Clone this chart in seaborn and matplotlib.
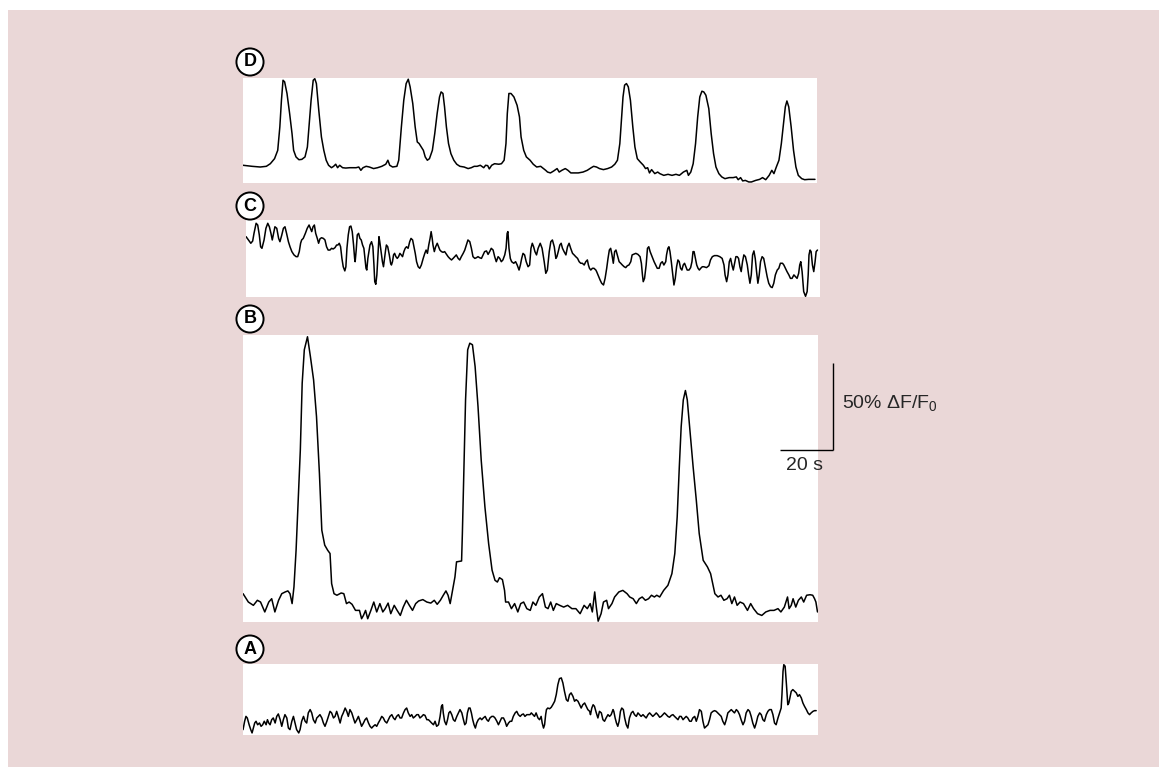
import matplotlib
matplotlib.use("Agg")
import matplotlib.pyplot as plt
from matplotlib.patches import Rectangle
import pandas as pd
import seaborn as sns

sns.set_style("white")
plt.rcParams["font.family"] = ["Liberation Sans", "DejaVu Sans"]
plt.rcParams["mathtext.default"] = "regular"

# Calcium imaging traces: (time in s, dF/F0 in %)
trace_d = [
    (0.0, 10.2), (3.4, 9.6), (6.5, 9.2), (8.8, 9.6), (10.3, 11.1), (11.9, 14.0), (13.1, 18.8),
    (13.9, 32.3), (14.5, 47.6), (15.1, 59.1), (15.7, 58.2), (16.6, 51.5), (17.6, 39.9), (18.5, 28.4),
    (19.1, 18.8), (20.0, 15.0), (21.1, 13.4), (22.2, 13.6), (23.4, 15.0), (24.3, 20.7), (24.9, 32.3),
    (25.7, 47.6), (26.5, 59.1), (27.1, 60.0), (27.7, 57.2), (28.6, 41.9), (29.6, 26.5), (30.5, 18.8),
    (31.4, 13.1), (32.3, 10.2), (33.4, 8.8), (34.2, 9.6), (35.0, 10.8), (35.7, 8.8), (36.5, 10.2),
    (37.6, 8.8), (38.8, 8.6), (40.3, 8.8), (42.7, 8.8), (43.7, 9.2), (44.5, 7.3), (45.3, 8.8),
    (46.5, 9.6), (47.7, 9.2), (49.3, 8.3), (50.8, 8.8), (52.4, 9.6), (53.9, 10.8), (54.7, 13.1),
    (55.4, 10.2), (56.5, 9.2), (58.1, 9.6), (58.8, 13.1), (59.8, 32.3), (60.7, 47.6), (61.6, 57.2),
    (62.4, 59.7), (63.1, 55.3), (64.1, 45.7), (65.0, 32.3), (65.8, 23.6), (66.5, 22.7), (67.3, 20.7),
    (68.1, 18.8), (68.8, 15.0), (69.6, 13.1), (70.4, 14.0), (71.5, 18.8), (72.4, 28.4), (73.3, 39.9),
    (74.2, 49.5), (74.8, 52.4), (75.5, 51.5), (76.1, 43.8), (76.8, 32.3), (77.6, 22.7), (78.5, 16.9),
    (79.6, 13.1), (80.7, 10.8), (81.9, 9.6), (83.5, 9.2), (85.0, 8.3), (86.2, 8.8), (87.3, 9.6),
    (88.4, 9.6), (89.6, 10.2), (90.9, 8.8), (91.6, 10.2), (92.4, 10.0), (93.0, 8.1), (93.9, 10.2),
    (95.0, 11.1), (96.6, 10.8), (97.6, 11.1), (98.6, 13.1), (99.3, 22.7), (99.8, 39.9), (100.4, 51.5),
    (101.2, 51.5), (102.3, 49.5), (103.5, 44.7), (104.4, 38.0), (105.0, 26.5), (106.0, 18.8),
    (107.0, 15.0), (108.4, 13.1), (109.6, 10.8), (110.9, 9.2), (112.4, 9.6), (113.5, 8.3), (114.3, 7.3),
    (115.0, 6.3), (116.1, 5.8), (117.3, 6.9), (118.6, 8.3), (119.4, 6.3), (120.4, 7.3), (121.7, 8.3),
    (122.7, 7.3), (123.8, 5.8), (125.0, 5.8), (126.6, 5.8), (128.4, 6.3), (130.0, 7.3), (131.5, 8.8),
    (132.4, 9.6), (133.5, 9.2), (134.6, 8.3), (136.1, 7.7), (137.7, 8.3), (139.2, 9.2), (140.4, 10.8),
    (141.4, 13.1), (142.3, 22.7), (142.9, 36.1), (143.5, 49.5), (144.1, 56.3), (144.8, 57.2),
    (145.5, 55.3), (146.3, 47.6), (147.2, 32.3), (148.0, 20.7), (148.9, 14.0), (150.0, 12.1),
    (151.2, 10.2), (152.0, 8.3), (152.8, 8.8), (153.5, 5.8), (154.3, 7.7), (155.5, 5.4), (156.6, 6.3),
    (157.4, 5.4), (158.9, 4.4), (160.5, 5.0), (162.0, 4.4), (163.5, 5.0), (164.8, 4.4), (166.3, 6.3),
    (167.6, 7.3), (168.2, 4.4), (169.1, 6.3), (170.0, 11.1), (170.9, 22.7), (171.7, 38.0),
    (172.5, 49.5), (173.3, 52.8), (174.0, 52.4), (174.8, 50.5), (175.9, 42.8), (176.8, 28.4),
    (177.7, 16.9), (178.6, 9.2), (179.7, 5.4), (180.8, 3.5), (182.0, 2.5), (183.6, 3.1), (185.1, 3.1),
    (186.3, 3.5), (187.0, 1.9), (187.9, 3.1), (188.7, 1.2), (189.7, 1.5), (191.0, 0.6), (192.0, 0.6),
    (193.6, 1.5), (195.1, 2.1), (196.2, 3.1), (197.4, 1.9), (198.7, 4.4), (199.7, 7.3), (200.5, 5.4),
    (201.4, 9.2), (202.4, 13.1), (203.3, 22.7), (204.1, 34.2), (204.8, 43.8), (205.4, 47.2),
    (206.1, 43.8), (207.0, 32.3), (207.9, 18.8), (208.8, 9.2), (209.7, 4.4), (211.0, 2.5),
    (212.1, 1.9), (213.6, 2.1), (216.0, 2.1),
]

trace_c = [
    (0.0, 34.7), (0.9, 32.8), (1.8, 30.9), (2.5, 32.2), (3.0, 36.6), (3.8, 42.4), (4.4, 41.4),
    (5.0, 35.7), (5.5, 28.9), (6.0, 28.0), (6.8, 32.8), (7.5, 39.5), (8.2, 42.4), (8.8, 40.4),
    (9.4, 36.6), (9.9, 32.8), (10.4, 36.6), (10.9, 40.4), (11.6, 39.5), (12.3, 33.7), (12.8, 31.8),
    (13.5, 35.7), (14.1, 39.5), (14.7, 40.4), (15.3, 36.6), (16.0, 31.8), (16.6, 28.9), (17.3, 26.1),
    (18.1, 24.2), (18.9, 23.2), (19.5, 23.2), (20.1, 26.1), (20.6, 30.9), (21.0, 32.8), (21.6, 33.7),
    (22.4, 36.6), (23.1, 39.5), (23.8, 41.4), (24.3, 39.5), (24.8, 37.6), (25.3, 40.4), (25.8, 41.4),
    (26.3, 36.6), (26.9, 33.7), (27.4, 30.9), (27.9, 33.4), (28.5, 34.1), (29.2, 33.7), (29.8, 32.8),
    (30.4, 28.9), (31.0, 27.0), (31.7, 27.0), (32.3, 28.0), (32.9, 27.6), (33.6, 28.4), (34.2, 29.9),
    (34.7, 29.9), (35.2, 30.9), (35.7, 28.9), (36.2, 22.2), (36.7, 17.4), (37.3, 15.0), (37.7, 17.4),
    (38.1, 28.0), (38.6, 35.7), (39.1, 40.4), (39.6, 40.8), (40.1, 37.6), (40.6, 29.9), (41.0, 22.2),
    (41.2, 20.3), (41.6, 27.0), (42.0, 35.7), (42.5, 36.6), (43.0, 33.7), (43.5, 32.8), (44.0, 29.9),
    (44.5, 28.0), (44.9, 22.2), (45.3, 16.5), (45.6, 15.5), (46.0, 22.2), (46.4, 26.1), (46.8, 29.9),
    (47.4, 31.8), (47.9, 28.9), (48.3, 18.4), (48.6, 8.8), (49.0, 7.3), (49.4, 12.7), (49.8, 24.2),
    (50.2, 34.7), (50.5, 31.8), (51.0, 26.1), (51.5, 20.3), (51.9, 17.4), (52.3, 22.2), (52.7, 27.0),
    (53.0, 29.9), (53.5, 28.9), (54.1, 24.2), (54.6, 19.4), (54.9, 18.4), (55.3, 20.3), (55.7, 24.2),
    (56.1, 25.1), (56.6, 23.2), (57.1, 22.2), (57.6, 23.2), (58.1, 25.1), (58.6, 24.2), (59.1, 23.2),
    (59.6, 26.1), (60.1, 28.0), (60.6, 28.9), (61.2, 28.0), (61.8, 31.8), (62.3, 33.7), (62.9, 32.8),
    (63.4, 28.9), (63.9, 25.1), (64.4, 20.3), (65.0, 17.4), (65.6, 16.5), (66.2, 18.4), (66.9, 22.2),
    (67.5, 25.1), (68.0, 27.0), (68.5, 25.1), (69.0, 29.9), (69.5, 33.7), (69.9, 37.6), (70.3, 33.7),
    (70.6, 29.9), (71.1, 26.1), (71.6, 28.9), (72.2, 30.9), (72.7, 28.9), (73.2, 27.0), (73.8, 26.1),
    (74.4, 25.7), (75.0, 26.1), (75.7, 24.5), (76.3, 23.2), (76.9, 22.2), (77.6, 21.3), (78.2, 22.2),
    (78.8, 23.2), (79.4, 24.2), (80.1, 22.2), (80.7, 21.3), (81.3, 23.2), (82.0, 25.1), (82.6, 27.0),
    (83.2, 29.9), (83.8, 32.8), (84.5, 31.8), (85.1, 28.0), (85.7, 23.2), (86.4, 22.2), (87.0, 22.6),
    (87.6, 23.2), (88.2, 22.6), (88.9, 22.2), (89.5, 24.2), (90.1, 26.1), (90.8, 26.5), (91.4, 24.5),
    (92.0, 26.1), (92.6, 28.0), (93.3, 27.0), (93.9, 23.2), (94.5, 20.3), (95.2, 23.2), (95.8, 22.2),
    (96.4, 20.3), (97.0, 21.3), (97.7, 24.2), (98.2, 28.0), (98.6, 36.6), (98.9, 37.6), (99.3, 28.0),
    (99.8, 22.2), (100.3, 20.3), (101.1, 19.4), (101.8, 20.3), (102.4, 18.4), (103.1, 15.5),
    (103.6, 18.4), (104.1, 22.2), (104.6, 25.1), (105.2, 24.2), (105.8, 20.3), (106.5, 17.4),
    (107.1, 18.4), (107.6, 28.0), (108.1, 30.9), (108.6, 28.9), (109.1, 26.1), (109.7, 24.2),
    (110.3, 28.0), (111.1, 30.9), (111.8, 28.0), (112.6, 20.3), (113.2, 13.6), (113.8, 15.5),
    (114.5, 26.1), (115.1, 31.8), (115.7, 32.8), (116.4, 28.9), (117.0, 22.2), (117.4, 23.2),
    (117.9, 26.1), (118.5, 29.9), (119.0, 30.9), (119.5, 28.0), (120.1, 26.1), (120.8, 24.2),
    (121.4, 28.9), (122.0, 30.9), (122.6, 28.0), (123.3, 25.1), (123.9, 24.2), (124.5, 23.2),
    (125.2, 22.2), (125.8, 20.3), (126.4, 19.4), (127.0, 19.4), (127.7, 18.4), (128.3, 20.3),
    (128.9, 21.3), (129.3, 18.4), (129.7, 16.5), (130.2, 15.5), (130.8, 16.5), (131.4, 16.5),
    (132.1, 15.5), (132.4, 14.6), (132.9, 12.7), (133.7, 9.8), (134.3, 7.9), (135.0, 6.9),
    (135.6, 10.7), (136.2, 16.5), (136.7, 22.2), (137.2, 27.0), (137.7, 28.0), (138.2, 24.2),
    (138.7, 19.4), (139.2, 26.1), (139.7, 27.0), (140.2, 24.2), (140.9, 20.3), (141.5, 19.4),
    (142.1, 18.4), (142.8, 17.4), (143.4, 16.9), (144.0, 18.0), (144.6, 18.4), (145.3, 20.3),
    (145.8, 24.2), (146.3, 24.5), (147.2, 25.1), (148.0, 24.5), (148.8, 23.2), (149.3, 19.4),
    (149.7, 12.7), (150.0, 8.8), (150.5, 10.7), (151.1, 18.4), (151.6, 28.0), (152.1, 28.9),
    (152.6, 26.1), (153.1, 24.2), (153.6, 22.2), (154.1, 20.3), (154.7, 18.4), (155.3, 16.5),
    (156.0, 16.5), (156.6, 19.4), (157.2, 20.3), (157.8, 18.4), (158.5, 20.3), (158.8, 24.2),
    (159.3, 28.0), (159.7, 28.9), (160.1, 26.1), (160.6, 20.3), (161.1, 13.6), (161.6, 6.9),
    (162.1, 10.7), (162.6, 17.4), (163.1, 21.3), (163.6, 20.3), (164.1, 16.5), (164.6, 15.5),
    (165.1, 18.4), (165.6, 19.4), (166.1, 17.4), (166.6, 15.5), (167.3, 15.5), (167.9, 16.9),
    (168.4, 20.3), (168.8, 26.1), (169.2, 26.1), (169.7, 22.2), (170.2, 18.4), (170.7, 16.5),
    (171.2, 15.5), (171.7, 16.5), (172.3, 17.4), (172.9, 17.4), (173.9, 16.9), (174.8, 18.0),
    (175.4, 21.3), (176.1, 23.2), (176.9, 23.8), (177.9, 23.8), (178.9, 23.2), (179.8, 22.2),
    (180.5, 18.4), (180.9, 12.7), (181.5, 8.8), (182.0, 12.7), (182.5, 20.3), (183.0, 22.2),
    (183.5, 18.4), (184.0, 15.5), (184.5, 19.4), (185.0, 23.2), (185.5, 23.2), (186.0, 22.2),
    (186.5, 17.4), (187.0, 14.6), (187.5, 20.3), (188.0, 24.2), (188.6, 23.2), (189.3, 18.4),
    (189.8, 12.7), (190.3, 7.9), (190.8, 12.7), (191.3, 24.2), (191.8, 26.5), (192.3, 22.2),
    (192.8, 14.6), (193.3, 7.9), (193.8, 12.7), (194.3, 20.3), (194.9, 23.2), (195.5, 22.2),
    (196.2, 16.5), (196.8, 11.7), (197.4, 7.9), (198.1, 5.9), (198.7, 5.4), (199.3, 7.9),
    (199.9, 12.7), (200.6, 15.5), (201.2, 16.5), (201.8, 19.4), (202.6, 19.4), (203.1, 18.4),
    (203.7, 16.5), (204.3, 14.6), (205.0, 12.7), (205.6, 10.7), (206.2, 10.7), (206.9, 12.7),
    (207.5, 11.7), (208.1, 10.7), (208.7, 13.6), (209.1, 18.4), (209.5, 20.3), (210.0, 14.6),
    (210.6, 3.1), (211.3, 0.4), (211.9, 3.1), (212.3, 12.7), (212.6, 24.2), (213.0, 27.0),
    (213.4, 26.1), (213.9, 18.4), (214.4, 14.6), (214.9, 20.3), (215.3, 26.1), (215.8, 27.0),
]

trace_b = [
    (0.0, 16.3), (2.0, 11.5), (3.9, 9.6), (5.4, 12.5), (6.6, 11.5), (8.2, 5.8), (9.7, 11.5),
    (10.8, 13.4), (12.0, 5.8), (13.4, 12.5), (14.6, 16.3), (15.9, 17.3), (16.9, 17.9), (17.7, 16.3),
    (18.5, 10.6), (19.2, 20.2), (20.0, 41.3), (20.8, 70.1), (21.6, 98.9), (22.3, 137.3),
    (23.1, 156.5), (24.3, 164.0), (25.4, 152.6), (26.6, 139.2), (27.7, 118.1), (28.8, 85.4),
    (29.7, 52.8), (30.8, 44.2), (31.9, 41.3), (32.8, 39.4), (33.4, 22.1), (34.3, 16.3), (35.4, 15.4),
    (37.0, 16.7), (38.0, 16.3), (39.0, 10.6), (40.0, 11.5), (41.1, 10.2), (42.4, 6.7), (43.9, 6.7),
    (44.7, 1.9), (45.4, 3.8), (46.2, 6.7), (47.0, 1.9), (48.2, 6.7), (49.3, 11.5), (50.4, 5.8),
    (51.6, 10.6), (52.7, 5.8), (53.6, 7.7), (54.7, 10.9), (55.7, 4.8), (57.0, 9.6), (58.1, 6.7),
    (59.3, 3.8), (60.4, 8.6), (61.6, 12.5), (62.7, 9.6), (63.9, 6.7), (65.1, 10.6), (66.2, 12.1),
    (67.8, 12.9), (69.3, 11.5), (70.8, 10.9), (72.1, 12.5), (73.2, 10.2), (74.4, 12.5), (75.5, 15.4),
    (76.5, 17.9), (77.3, 15.4), (78.1, 10.6), (79.0, 18.2), (79.9, 25.9), (80.5, 34.6), (82.4, 35.1),
    (82.7, 50.9), (83.3, 89.3), (83.9, 127.7), (84.7, 156.5), (85.5, 160.3), (86.5, 159.4),
    (87.5, 146.9), (88.6, 123.8), (89.8, 93.1), (91.2, 66.2), (92.6, 45.1), (93.9, 29.8),
    (95.0, 24.0), (95.9, 23.0), (96.7, 25.5), (97.8, 24.4), (98.6, 18.2), (99.0, 11.5),
    (100.1, 11.5), (101.2, 7.7), (102.4, 10.6), (103.6, 5.8), (104.7, 10.6), (105.8, 11.5),
    (107.0, 7.7), (108.3, 6.7), (109.3, 11.5), (110.4, 9.6), (111.7, 14.4), (112.9, 16.3),
    (114.0, 8.6), (115.0, 7.7), (116.0, 11.5), (117.0, 6.7), (118.1, 10.6), (119.4, 9.6),
    (120.9, 8.6), (122.4, 9.6), (124.0, 7.7), (125.5, 7.7), (127.1, 4.8), (128.6, 9.6), (129.8, 7.7),
    (130.9, 10.6), (131.7, 5.8), (132.6, 17.3), (133.2, 8.6), (133.9, 0.5), (135.0, 4.8),
    (135.9, 11.5), (137.1, 12.5), (137.8, 7.7), (139.1, 10.6), (140.1, 14.4), (141.7, 17.3),
    (143.2, 18.2), (144.8, 16.3), (145.8, 14.4), (147.1, 13.4), (148.3, 10.6), (149.4, 13.4),
    (150.5, 14.4), (151.7, 12.5), (152.9, 13.4), (154.0, 15.4), (155.1, 14.4), (156.0, 15.4),
    (157.1, 14.4), (158.6, 18.2), (160.2, 21.1), (161.7, 27.8), (162.8, 39.4), (163.7, 60.5),
    (164.5, 89.3), (165.2, 112.3), (166.0, 127.7), (166.8, 133.1), (167.5, 127.7), (168.6, 108.5),
    (169.7, 89.3), (170.9, 70.1), (172.0, 50.9), (173.5, 35.5), (175.1, 31.7), (176.3, 27.8),
    (177.1, 22.1), (177.9, 16.3), (179.1, 14.4), (180.2, 15.4), (181.3, 12.5), (182.5, 13.4),
    (183.4, 15.4), (184.3, 10.6), (185.3, 14.4), (186.3, 9.6), (187.4, 11.5), (188.7, 10.6),
    (190.2, 6.7), (191.4, 10.6), (192.5, 7.7), (194.0, 4.8), (195.6, 3.8), (197.1, 5.8),
    (198.7, 6.7), (200.2, 6.7), (201.7, 7.7), (202.8, 5.8), (204.1, 8.6), (205.3, 14.4),
    (205.9, 7.7), (206.7, 9.6), (207.4, 13.4), (208.4, 8.6), (209.4, 12.5), (210.5, 14.4),
    (211.4, 11.5), (212.5, 15.4), (213.8, 15.7), (214.8, 15.4), (215.5, 13.4), (216.0, 11.5),
    (216.6, 5.8),
]

trace_a = [
    (0.0, 3.1), (0.6, 7.9), (1.1, 10.7), (1.6, 9.8), (2.3, 5.9), (2.9, 3.1), (3.4, 1.2), (3.9, 4.0),
    (4.4, 6.9), (4.9, 7.9), (5.5, 5.9), (6.2, 6.9), (6.8, 5.0), (7.4, 5.9), (8.0, 7.9), (8.7, 5.9),
    (9.2, 8.8), (9.7, 6.9), (10.2, 5.9), (10.8, 8.8), (11.4, 9.8), (12.1, 6.9), (12.7, 10.7),
    (13.3, 12.1), (14.0, 8.8), (14.6, 5.0), (15.2, 8.8), (15.8, 11.7), (16.5, 9.8), (17.1, 4.0),
    (17.7, 3.1), (18.4, 7.9), (19.0, 10.7), (19.6, 6.9), (20.2, 3.1), (21.0, 1.2), (21.5, 3.1),
    (22.1, 7.9), (22.8, 10.7), (23.4, 7.9), (24.0, 6.9), (24.6, 12.7), (25.3, 14.6), (25.9, 12.7),
    (26.5, 8.8), (27.2, 6.9), (27.8, 9.8), (28.4, 10.7), (29.0, 11.7), (29.7, 9.8), (30.3, 6.9),
    (30.9, 5.0), (31.6, 7.9), (32.2, 10.7), (32.8, 13.6), (33.4, 12.7), (34.1, 9.8), (34.7, 10.7),
    (35.3, 13.6), (35.9, 10.7), (36.6, 6.9), (37.2, 10.7), (37.8, 12.7), (38.5, 15.5), (39.1, 13.6),
    (39.7, 10.7), (40.3, 14.6), (41.0, 12.7), (41.6, 9.8), (42.2, 6.9), (42.9, 8.8), (43.5, 10.7),
    (44.1, 7.9), (44.7, 5.0), (45.4, 6.9), (46.0, 8.8), (46.6, 9.8), (47.3, 6.9), (47.9, 5.0),
    (48.5, 4.0), (49.1, 5.0), (49.8, 5.9), (50.4, 5.0), (51.0, 6.9), (51.7, 8.8), (52.3, 10.7),
    (52.9, 9.8), (53.5, 7.9), (54.2, 6.9), (54.8, 8.8), (55.4, 10.7), (56.1, 11.7), (56.7, 9.8),
    (57.3, 8.8), (57.9, 10.7), (58.6, 11.7), (59.2, 9.8), (59.8, 9.8), (60.5, 12.7), (61.1, 14.6),
    (61.7, 15.5), (62.3, 12.7), (63.0, 10.7), (63.6, 11.7), (64.2, 9.8), (64.9, 10.7), (65.5, 11.7),
    (66.1, 11.7), (66.7, 9.8), (67.4, 10.7), (68.0, 11.7), (68.6, 11.3), (69.3, 8.8), (69.9, 8.8),
    (70.5, 7.9), (71.1, 6.9), (71.8, 5.9), (72.4, 7.9), (73.0, 5.0), (73.7, 5.9), (74.3, 10.7),
    (74.8, 16.5), (75.2, 17.4), (75.5, 12.7), (76.0, 7.9), (76.6, 5.9), (77.1, 8.8), (77.6, 12.7),
    (78.1, 13.6), (78.7, 11.7), (79.3, 8.8), (79.9, 7.9), (80.6, 10.7), (81.2, 12.7), (81.8, 14.6),
    (82.5, 12.7), (83.1, 8.8), (83.6, 5.9), (84.1, 6.9), (84.6, 12.7), (85.1, 15.5), (85.6, 15.5),
    (86.1, 12.7), (86.6, 8.8), (87.1, 5.9), (87.6, 4.0), (88.1, 6.9), (88.7, 8.8), (89.4, 9.8),
    (90.0, 8.8), (90.6, 9.8), (91.3, 10.7), (91.9, 8.8), (92.5, 7.9), (93.1, 9.8), (93.8, 10.7),
    (94.4, 10.7), (95.0, 9.8), (95.7, 7.9), (96.3, 5.9), (96.9, 7.9), (97.5, 9.8), (98.2, 9.8),
    (98.8, 7.9), (99.4, 5.0), (100.1, 6.9), (100.7, 7.9), (101.3, 7.9), (101.9, 10.7), (102.6, 12.7),
    (103.2, 13.6), (103.8, 11.7), (104.5, 10.7), (105.1, 11.7), (105.7, 12.1), (106.3, 10.7),
    (107.0, 11.7), (107.6, 11.7), (108.2, 11.7), (108.7, 12.7), (109.3, 11.7), (109.9, 10.7),
    (110.5, 12.7), (111.2, 9.8), (111.8, 8.8), (112.4, 10.7), (112.8, 6.9), (113.3, 4.0),
    (113.7, 5.9), (114.1, 11.7), (114.4, 14.6), (114.9, 15.5), (115.6, 15.1), (116.2, 15.9),
    (116.8, 17.4), (117.5, 19.4), (118.1, 23.2), (118.7, 28.9), (119.3, 32.4), (120.0, 32.8),
    (120.6, 29.9), (121.2, 25.1), (121.9, 20.3), (122.5, 19.4), (123.1, 23.2), (123.7, 24.2),
    (124.4, 22.2), (125.0, 19.4), (125.6, 20.3), (126.3, 19.4), (126.9, 17.4), (127.5, 15.5),
    (128.1, 17.4), (128.8, 18.4), (129.4, 16.5), (130.0, 14.6), (130.7, 13.6), (131.0, 11.7),
    (131.5, 15.5), (132.0, 17.4), (132.5, 16.5), (133.2, 12.7), (133.8, 9.8), (134.4, 13.6),
    (135.1, 12.7), (135.7, 8.8), (136.3, 7.9), (136.9, 9.8), (137.6, 11.7), (138.2, 10.7),
    (138.8, 11.7), (139.5, 14.6), (139.8, 13.6), (140.3, 9.8), (140.8, 6.9), (141.3, 5.0),
    (141.8, 7.9), (142.3, 13.6), (142.8, 15.5), (143.4, 14.6), (143.9, 9.8), (144.5, 5.9),
    (145.1, 4.0), (145.7, 9.8), (146.4, 12.7), (147.0, 13.6), (147.6, 11.7), (148.3, 10.7),
    (148.9, 12.7), (149.5, 11.7), (150.1, 10.7), (150.8, 11.7), (151.4, 10.7), (152.0, 9.8),
    (152.7, 11.7), (153.3, 12.7), (153.9, 11.7), (154.5, 10.7), (155.2, 11.7), (155.8, 12.7),
    (156.4, 11.7), (157.1, 10.2), (157.7, 10.7), (158.3, 11.7), (158.9, 12.7), (159.6, 11.7),
    (160.2, 10.7), (160.8, 10.2), (161.5, 11.3), (162.1, 11.7), (162.7, 10.7), (163.3, 9.8),
    (164.0, 8.8), (164.6, 10.7), (165.2, 10.7), (165.9, 8.8), (166.5, 9.8), (167.1, 10.7),
    (167.7, 9.8), (168.4, 7.9), (169.0, 7.9), (169.6, 9.8), (170.3, 10.7), (170.9, 7.9),
    (171.5, 10.7), (172.1, 14.6), (172.8, 13.6), (173.4, 7.9), (174.0, 4.0), (174.7, 5.0),
    (175.3, 5.9), (175.9, 8.8), (176.5, 12.7), (177.2, 13.6), (177.8, 14.0), (178.4, 13.6),
    (179.0, 12.7), (179.7, 11.7), (180.3, 10.7), (180.9, 7.9), (181.6, 5.9), (182.2, 8.8),
    (182.8, 12.7), (183.4, 13.6), (184.1, 14.6), (184.7, 13.6), (185.3, 12.7), (186.0, 14.6),
    (186.6, 13.6), (187.2, 11.7), (187.8, 8.8), (188.5, 5.9), (189.1, 7.9), (189.7, 12.7),
    (190.4, 14.6), (191.0, 13.6), (191.6, 10.7), (192.2, 6.9), (192.9, 4.0), (193.5, 6.9),
    (194.1, 10.7), (194.8, 12.7), (195.4, 11.7), (196.0, 8.8), (196.6, 7.9), (197.3, 11.7),
    (197.9, 13.6), (198.5, 14.6), (199.2, 14.6), (199.8, 11.7), (200.4, 6.9), (201.0, 5.9),
    (201.7, 9.8), (202.3, 12.7), (202.9, 15.5), (203.2, 23.2), (203.6, 36.6), (203.9, 40.4),
    (204.4, 39.5), (204.9, 28.9), (205.4, 17.4), (205.8, 18.4), (206.2, 21.3), (206.7, 25.1),
    (207.3, 26.1), (208.0, 25.1), (208.6, 24.2), (209.2, 22.2), (209.8, 23.2), (210.5, 21.3),
    (211.1, 18.4), (211.7, 16.5), (212.4, 14.6), (213.0, 12.7), (213.6, 11.7), (214.2, 12.7),
    (214.9, 13.6), (215.5, 14.0), (216.1, 14.0),
]

# Scale bar values
SCALE_SECONDS = 20
SCALE_DFF = 50

T_SPAN = 216.8          # seconds covered by each panel
BG = "#ead7d7"

# label, trace, axes rect (figure fraction), dF/F0 range shown, label position
panels = [
    ("D", trace_d, [0.2097, 0.7614, 0.4953, 0.1369], 60.4, (0.2157, 0.9192)),
    ("C", trace_c, [0.2123, 0.6128, 0.4953, 0.1004], 44.3, (0.2157, 0.7314)),
    ("B", trace_b, [0.2097, 0.1890, 0.4961, 0.3742], 165.0, (0.2157, 0.5841)),
    ("A", trace_a, [0.2097, 0.0417, 0.4961, 0.0926], 40.8, (0.2157, 0.1538)),
]

fig = plt.figure(figsize=(11.59, 7.67), dpi=100)
fig.patch.set_facecolor("white")
fig.add_artist(Rectangle((8 / 1159, 0), 1 - 8 / 1159, 1 - 10 / 767,
                         transform=fig.transFigure, facecolor=BG,
                         edgecolor="none", zorder=-5))

axes = {}
for label, trace, rect, ymax, (lx, ly) in panels:
    ax = fig.add_axes(rect)
    df = pd.DataFrame(trace, columns=["time_s", "dff"])
    sns.lineplot(data=df, x="time_s", y="dff", ax=ax, color="black",
                 linewidth=1.1, estimator=None, sort=False, legend=False)
    ax.set_xlim(0, T_SPAN)
    ax.set_ylim(0, ymax)
    ax.set_facecolor("white")
    ax.set_xticks([])
    ax.set_yticks([])
    ax.set_xlabel("")
    ax.set_ylabel("")
    for sp in ax.spines.values():
        sp.set_visible(False)
    fig.text(lx, ly, label, ha="center", va="center", fontsize=13,
             fontweight="bold", color="black",
             bbox=dict(boxstyle="circle,pad=0.28", facecolor="white",
                       edgecolor="black", linewidth=1.4))
    axes[label] = ax

# Scale bar beside panel B
ax_b = axes["B"]
x0, y0 = 202.4, 98.9
ax_b.plot([x0, x0 + SCALE_SECONDS], [y0, y0], color="black", lw=1.0,
          clip_on=False, solid_capstyle="butt")
ax_b.plot([x0 + SCALE_SECONDS, x0 + SCALE_SECONDS], [y0, y0 + SCALE_DFF],
          color="black", lw=1.0, clip_on=False, solid_capstyle="butt")
ax_b.text(x0 + SCALE_SECONDS + 3.4, y0 + SCALE_DFF / 2 + 2,
          f"{SCALE_DFF}% ΔF/F$_0$", ha="left", va="center", fontsize=14,
          clip_on=False)
ax_b.text(x0 + 2.3, y0 - 4, f"{SCALE_SECONDS} s", ha="left", va="top",
          fontsize=14, clip_on=False)

fig.savefig("out.png", dpi=100, facecolor=fig.get_facecolor())
